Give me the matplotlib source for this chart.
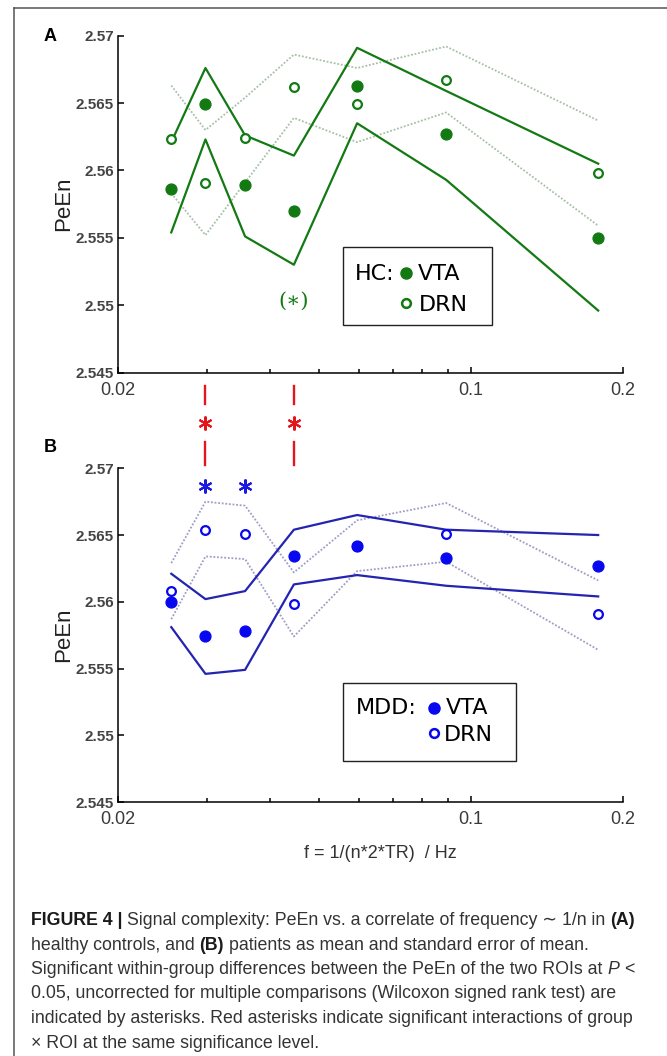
import numpy as np
import matplotlib
matplotlib.use("Agg")
import matplotlib.pyplot as plt
from matplotlib.lines import Line2D
from matplotlib.patches import Rectangle
from matplotlib.ticker import LogLocator, NullFormatter
from matplotlib.transforms import Affine2D, blended_transform_factory

plt.rcParams['font.family'] = ['Liberation Sans', 'DejaVu Sans']

# f = 1/(n*2*TR) for n = 7 ... 1
freq = [0.0255, 0.0298, 0.0357, 0.0446, 0.0595, 0.0893, 0.1786]

# A: healthy controls, mean and mean +/- SEM
hc_vta = [2.5586, 2.5649, 2.5589, 2.5570, 2.5663, 2.5627, 2.5550]
hc_vta_hi = [2.5621, 2.5676, 2.5626, 2.5611, 2.5691, 2.5659, 2.5605]
hc_vta_lo = [2.5554, 2.5623, 2.5551, 2.5530, 2.5635, 2.5593, 2.5496]
hc_drn = [2.5623, 2.5591, 2.5624, 2.5662, 2.5649, 2.5667, 2.5598]
hc_drn_hi = [2.5663, 2.5630, 2.5654, 2.5686, 2.5676, 2.5692, 2.5637]
hc_drn_lo = [2.5583, 2.5552, 2.5591, 2.5639, 2.5621, 2.5643, 2.5559]

# B: MDD patients
mdd_vta = [2.5600, 2.5574, 2.5578, 2.5634, 2.5642, 2.5633, 2.5627]
mdd_vta_hi = [2.5621, 2.5602, 2.5608, 2.5654, 2.5665, 2.5654, 2.5650]
mdd_vta_lo = [2.5581, 2.5546, 2.5549, 2.5613, 2.5620, 2.5612, 2.5604]
mdd_drn = [2.5608, 2.5654, 2.5651, 2.5598, 2.5642, 2.5651, 2.5591]
mdd_drn_hi = [2.5629, 2.5675, 2.5672, 2.5622, 2.5661, 2.5674, 2.5616]
mdd_drn_lo = [2.5587, 2.5634, 2.5632, 2.5574, 2.5623, 2.5630, 2.5564]

# significant frequencies
hc_trend = [0.0446]
mdd_sig = [0.0298, 0.0357]
interaction_sig = [0.0298, 0.0446]

yticks = [2.545, 2.55, 2.555, 2.56, 2.565, 2.57]
ytick_labels = ['2.545', '2.55', '2.555', '2.56', '2.565', '2.57']
xticks = [0.02, 0.1, 0.2]
xtick_labels = ['0.02', '0.1', '0.2']

caption = [
    [("FIGURE 4 |", "bold"), (" Signal complexity: PeEn vs. a correlate of frequency \u223c 1/n in ", "normal"), ("(A)", "bold")],
    [("healthy controls, and ", "normal"), ("(B)", "bold"), (" patients as mean and standard error of mean.", "normal")],
    [("Significant within-group differences between the PeEn of the two ROIs at ", "normal"), ("P", "italic"), (" <", "normal")],
    [("0.05, uncorrected for multiple comparisons (Wilcoxon signed rank test) are", "normal")],
    [("indicated by asterisks. Red asterisks indicate significant interactions of group", "normal")],
    [("\u00d7 ROI at the same significance level.", "normal")],
]

GREEN = '#137a13'
GREEN_DOT = '#a6c0a6'
BLUE = '#0808f0'
BLUE_LINE = '#2424b0'
BLUE_DOT = '#9d9dc6'
RED = '#e4161c'

W, H = 667, 1056
fig = plt.figure(figsize=(W / 100, H / 100), dpi=100)
# pixel coords from the top-left corner of the image
px = Affine2D().scale(1 / W, -1 / H).translate(0, 1) + fig.transFigure


def axes_px(left, top, right, bottom):
    return fig.add_axes([left / W, 1 - bottom / H, (right - left) / W, (bottom - top) / H])


def panel(ax, vta, vta_hi, vta_lo, drn, drn_hi, drn_lo, c_pt, c_line, c_dot):
    ax.plot(freq, drn_hi, color=c_dot, lw=1.3, ls=(0, (1, 1)))
    ax.plot(freq, drn_lo, color=c_dot, lw=1.3, ls=(0, (1, 1)))
    ax.plot(freq, vta_hi, color=c_line, lw=1.6)
    ax.plot(freq, vta_lo, color=c_line, lw=1.6)
    ax.plot(freq, drn, 'o', ls='none', mfc='white', mec=c_pt, ms=6.3, mew=1.6)
    ax.plot(freq, vta, 'o', ls='none', color=c_pt, ms=7.8)
    ax.set_xscale('log')
    ax.set_xlim(0.02, 0.2)
    ax.set_ylim(2.545, 2.57)
    ax.set_xticks(xticks)
    ax.set_xticklabels(xtick_labels, fontsize=13, color='#3a3a3a')
    ax.xaxis.set_minor_locator(LogLocator(base=10, subs=np.arange(2, 10), numticks=12))
    ax.xaxis.set_minor_formatter(NullFormatter())
    ax.set_yticks(yticks)
    ax.set_yticklabels(ytick_labels, fontsize=11, color='#444444', fontweight='bold')
    ax.tick_params(axis='x', which='both', direction='in', pad=6.5, width=1.1)
    ax.tick_params(axis='x', which='major', length=4)
    ax.tick_params(axis='x', which='minor', length=3)
    ax.tick_params(axis='y', direction='in', length=4, width=1.1, pad=3)
    for s in ['top', 'right']:
        ax.spines[s].set_visible(False)
    for s in ['left', 'bottom']:
        ax.spines[s].set_linewidth(1.1)
    ax.set_ylabel('PeEn', fontsize=16, color='#222222', va='center')
    ax.yaxis.set_label_coords(-0.107, 0.5)


def legend(box, title, title_x, mark_x, vta_x, drn_x, y1, y2, c_pt):
    x0, y0, x1, y1b = box
    fig.add_artist(Rectangle((x0, y0), x1 - x0, y1b - y0, transform=px, fc='white',
                             ec='#222222', lw=1.0, zorder=5))
    kw = dict(transform=px, fontsize=16, family='DejaVu Sans', va='baseline', zorder=6)
    fig.text(title_x, y1 + 7.5, title, **kw)
    fig.text(vta_x, y1 + 7.5, 'VTA', **kw)
    fig.text(drn_x, y2 + 8, 'DRN', **kw)
    fig.add_artist(Line2D([mark_x], [y1 + 1], transform=px, marker='o', color=c_pt,
                          ms=8, ls='none', zorder=7))
    fig.add_artist(Line2D([mark_x], [y2], transform=px, marker='o', mfc='white', mec=c_pt,
                          ms=6.3, mew=1.8, ls='none', zorder=7))


axA = axes_px(118, 35.7, 623, 372.5)
axB = axes_px(118, 468.3, 623, 802)

panel(axA, hc_vta, hc_vta_hi, hc_vta_lo, hc_drn, hc_drn_hi, hc_drn_lo, GREEN, GREEN, GREEN_DOT)
panel(axB, mdd_vta, mdd_vta_hi, mdd_vta_lo, mdd_drn, mdd_drn_hi, mdd_drn_lo, BLUE, BLUE_LINE, BLUE_DOT)
axB.set_xlabel('f = 1/(n*2*TR)  / Hz', fontsize=13, color='#333333', va='center')
axB.xaxis.set_label_coords((380 - 118) / 505, (802 - 853) / 333.7)

legend((343, 247, 492, 325), 'HC:', 355, 406, 418, 419, 272, 303, GREEN)
legend((343, 683, 516, 761), 'MDD:', 356, 434, 446, 444, 707, 733, BLUE)

# significance markers
axA.text(hc_trend[0], 0.212, '(\u2217)', transform=axA.get_xaxis_transform(), color=GREEN,
         fontsize=15, family='DejaVu Serif', ha='center', va='center')
axB.plot(mdd_sig, [0.947] * len(mdd_sig), transform=axB.get_xaxis_transform(), ls='none',
         marker=(6, 2, 0), ms=10, mew=1.5, color='#1a1ae0', clip_on=False)
t_red = blended_transform_factory(axB.transData, px)
for f in interaction_sig:
    fig.add_artist(Line2D([f, f], [386, 404], transform=t_red, color=RED, lw=1.7))
    fig.add_artist(Line2D([f, f], [442, 465], transform=t_red, color=RED, lw=1.7))
    fig.add_artist(Line2D([f], [423], transform=t_red, color=RED, marker=(6, 2, 0),
                          ms=10, mew=1.5, ls='none'))

fig.text(50, 41, 'A', transform=px, fontsize=13, fontweight='bold', ha='center', va='baseline')
fig.text(50, 452, 'B', transform=px, fontsize=13, fontweight='bold', ha='center', va='baseline')

# outer frame
fig.add_artist(Line2D([14, W], [8, 8], transform=px, color='#555555', lw=1.1))
fig.add_artist(Line2D([14, 14], [8, H], transform=px, color='#555555', lw=1.1))

# caption with mixed weights
renderer = fig.canvas.get_renderer()
cap_kw = dict(fontsize=12.8, color='#333333', family=['Liberation Sans', 'DejaVu Sans'])


def width(s, **kw):
    t = fig.text(0, 0, s, **kw)
    w = t.get_window_extent(renderer).width
    t.remove()
    return w


space = width('a a', **cap_kw) - width('aa', **cap_kw)
baselines = [925, 949.5, 974, 998.5, 1023, 1047.5]
for runs, yb in zip(caption, baselines):
    x = 31
    for s, style in runs:
        kw = dict(cap_kw)
        if style == 'bold':
            kw['fontweight'] = 'bold'
            kw['color'] = '#1a1a1a'
        elif style == 'italic':
            kw['fontstyle'] = 'italic'
        core = s.strip(' ')
        lead = len(s) - len(s.lstrip(' '))
        trail = len(s) - len(s.rstrip(' '))
        x += lead * space
        t = fig.text(x, yb, core, transform=px, va='baseline', **kw)
        x += t.get_window_extent(renderer).width + trail * space

fig.savefig('out.png', dpi=100)
